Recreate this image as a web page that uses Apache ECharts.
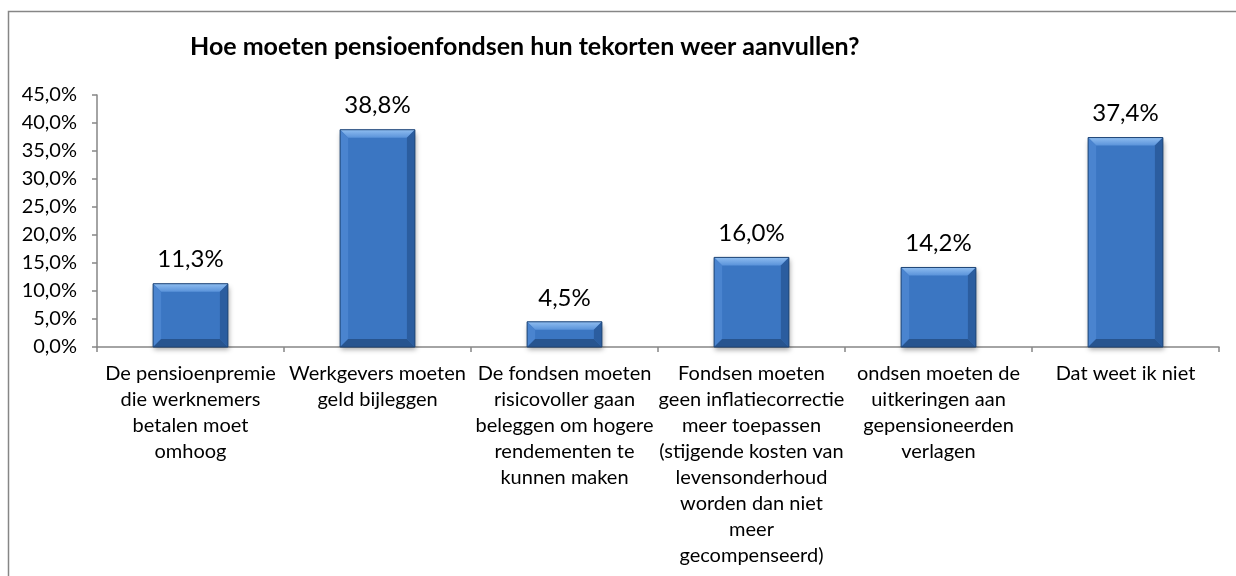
<!DOCTYPE html>
<html>
<head>
<meta charset="utf-8">
<script src="https://cdn.jsdelivr.net/npm/echarts@6/dist/echarts.min.js"></script>
<style>
  html, body { margin: 0; padding: 0; background: #fff; }
  #main { width: 1236px; height: 576px; }
</style>
</head>
<body>
<div id="main"></div>
<script>
// data
const categories = [
  'De pensioenpremie\ndie werknemers\nbetalen moet\nomhoog',
  'Werkgevers moeten\ngeld bijleggen',
  'De fondsen moeten\nrisicovoller gaan\nbeleggen om hogere\nrendementen te\nkunnen maken',
  'Fondsen moeten\ngeen inflatiecorrectie\nmeer toepassen\n(stijgende kosten van\nlevensonderhoud\nworden dan niet\nmeer\ngecompenseerd)',
  'ondsen moeten de\nuitkeringen aan\ngepensioneerden\nverlagen',
  'Dat weet ik niet'
];
const values = [11.3, 38.8, 4.5, 16.0, 14.2, 37.4];
const titleText = 'Hoe moeten pensioenfondsen hun tekorten weer aanvullen?';

const fmt = v => v.toFixed(1).replace('.', ',') + '%';
const font = 'Lato, "Noto Sans", sans-serif';

let chart = echarts.init(document.getElementById('main'));

// bevel overlay on every bar, placed with the axis scales
function renderBevel(params, api) {
  const idx = api.value(0);
  const top = api.coord([idx, api.value(1)]);
  const base = api.coord([idx, 0]);
  const w = api.size([1, 0])[0] * 0.4;
  const x0 = top[0] - w / 2, x1 = top[0] + w / 2;
  const y0 = top[1], y1 = base[1];
  const b = Math.min(8, (y1 - y0) / 2);
  return {
    type: 'group',
    children: [
      { type: 'polygon', shape: { points: [[x0, y0], [x1, y0], [x1 - b, y0 + b], [x0 + b, y0 + b]] },
        style: { fill: new echarts.graphic.LinearGradient(0, 0, 0, 1, [
          { offset: 0, color: '#8fbdf0' }, { offset: 1, color: '#5a93da' }]) } },
      { type: 'polygon', shape: { points: [[x0, y0], [x0 + b, y0 + b], [x0 + b, y1 - b], [x0, y1]] },
        style: { fill: '#4a84cf' } },
      { type: 'polygon', shape: { points: [[x1, y0], [x1 - b, y0 + b], [x1 - b, y1 - b], [x1, y1]] },
        style: { fill: '#2b5d9f' } },
      { type: 'polygon', shape: { points: [[x0, y1], [x0 + b, y1 - b], [x1 - b, y1 - b], [x1, y1]] },
        style: { fill: '#27548f' } },
      { type: 'rect', shape: { x: x0, y: y0, width: w, height: y1 - y0 },
        style: { fill: 'none', stroke: '#1f4576', lineWidth: 1 } }
    ]
  };
}

let option = {
  animation: false,
  backgroundColor: '#fff',
  textStyle: { fontFamily: font },
  graphic: [
    { type: 'rect', shape: { x: 8.5, y: 11.5, width: 1240, height: 600 },
      style: { fill: 'none', stroke: '#868686', lineWidth: 1.5 }, silent: true },
    { type: 'text', left: 190, top: 34,
      style: { text: titleText, fontFamily: font, fontWeight: 'bold', fontSize: 25, fill: '#000' } }
  ],
  grid: { left: 97, right: 17, top: 95, bottom: 229 },
  xAxis: {
    type: 'category',
    data: categories,
    axisLine: { lineStyle: { color: '#868686', width: 1.5 } },
    axisTick: { show: true, length: 5, lineStyle: { color: '#868686', width: 1.5 } },
    axisLabel: { interval: 0, margin: 14, fontSize: 20, lineHeight: 26, color: '#000', fontFamily: font, align: 'center' }
  },
  yAxis: {
    type: 'value',
    min: 0, max: 45, interval: 5,
    splitLine: { show: false },
    axisLine: { show: true, lineStyle: { color: '#868686', width: 1.5 } },
    axisTick: { show: true, length: 5, lineStyle: { color: '#868686', width: 1.5 } },
    axisLabel: { formatter: fmt, fontSize: 20, color: '#000', margin: 20, fontFamily: font }
  },
  series: [
    {
      type: 'bar',
      data: values,
      barWidth: '40%',
      itemStyle: {
        color: '#3b76c2',
        shadowColor: 'rgba(0,0,0,0.35)', shadowBlur: 5, shadowOffsetY: 3, shadowOffsetX: 1
      },
      label: {
        show: true, position: 'top', distance: 12,
        formatter: p => fmt(p.value), fontSize: 24, color: '#000', fontFamily: font
      }
    },
    {
      type: 'custom',
      renderItem: renderBevel,
      data: values.map((v, i) => [i, v]),
      encode: { x: 0, y: 1 },
      silent: true,
      z: 3
    }
  ]
};
chart.setOption(option);
</script>
</body>
</html>
